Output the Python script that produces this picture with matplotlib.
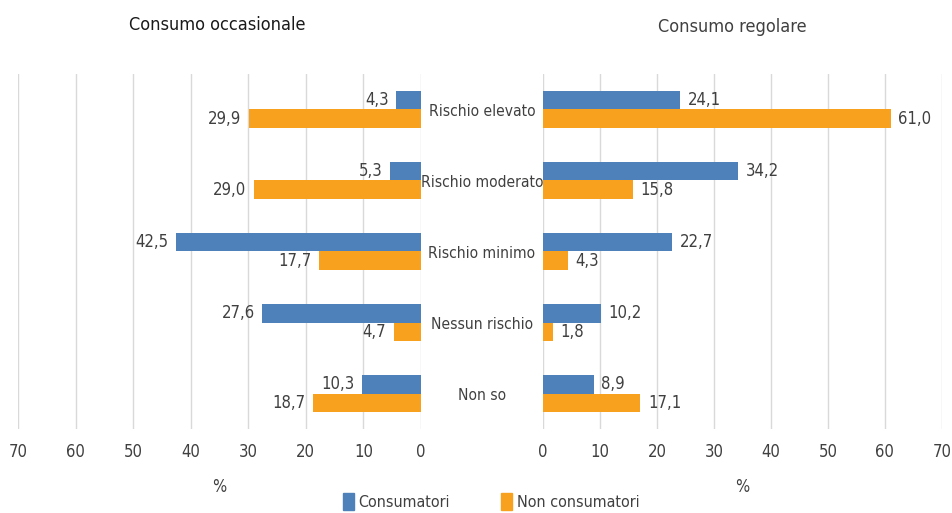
import numpy as np
import matplotlib
matplotlib.use("Agg")
import matplotlib.pyplot as plt
from matplotlib.patches import Patch

plt.rcParams["font.family"] = ["DejaVu Sans"]
plt.rcParams["font.stretch"] = "condensed"

categories = ["Rischio elevato", "Rischio moderato", "Rischio minimo", "Nessun rischio", "Non so"]
occ_consumatori = [4.3, 5.3, 42.5, 27.6, 10.3]
occ_non_consumatori = [29.9, 29.0, 17.7, 4.7, 18.7]
reg_consumatori = [24.1, 34.2, 22.7, 10.2, 8.9]
reg_non_consumatori = [61.0, 15.8, 4.3, 1.8, 17.1]
series_names = ["Consumatori", "Non consumatori"]
xticks = [0, 10, 20, 30, 40, 50, 60, 70]

BLUE = "#4E80B9"
ORANGE = "#F7A11F"
TXT = "#404040"
GRID = "#D9D9D9"

fig = plt.figure(figsize=(9.52, 5.13), dpi=100)
ax_l = fig.add_axes([0.0189, 0.1637, 0.4233, 0.6921])
ax_r = fig.add_axes([0.5704, 0.1637, 0.4190, 0.6921])

y = np.arange(len(categories))
h = 0.26


def fmt(v):
    return f"{v:.1f}".replace(".", ",")


def draw(ax, cons, non, left_side):
    ax.barh(y - h / 2, cons, height=h, color=BLUE, zorder=3)
    ax.barh(y + h / 2, non, height=h, color=ORANGE, zorder=3)
    ha = "right" if left_side else "left"
    for yi, v in zip(y, cons):
        ax.text(v + 1.3, yi - h / 2, fmt(v), ha=ha, va="center", fontsize=12, color=TXT)
    for yi, v in zip(y, non):
        ax.text(v + 1.3, yi + h / 2, fmt(v), ha=ha, va="center", fontsize=12, color=TXT)
    ax.set_ylim(len(categories) - 0.5, -0.5)
    ax.set_xticks(xticks)
    ax.set_xticklabels([str(t) for t in xticks], fontsize=12, color=TXT)
    ax.tick_params(axis="x", length=0, pad=10)
    ax.set_yticks([])
    ax.grid(axis="x", color=GRID, linewidth=1, zorder=0)
    for s in ax.spines.values():
        s.set_visible(False)
    ax.set_xlabel("%", fontsize=12, color=TXT, labelpad=12)


draw(ax_l, occ_consumatori, occ_non_consumatori, True)
ax_l.set_xlim(70, 0)
draw(ax_r, reg_consumatori, reg_non_consumatori, False)
ax_r.set_xlim(0, 70)

fig.text(217 / 952, 1 - 25 / 513, "Consumo occasionale", ha="center", va="center",
         fontsize=13, color="#1a1a1a")
fig.text(732 / 952, 1 - 27 / 513, "Consumo regolare", ha="center", va="center",
         fontsize=13, color="#404040")

for yi, c in zip(y, categories):
    ax_r.annotate(c, xy=(482 / 952, yi + 0.03), xycoords=("figure fraction", "data"),
                  ha="center", va="center", fontsize=11.2, color=TXT)

handles = [Patch(color=BLUE), Patch(color=ORANGE)]
fig.legend(handles, series_names, loc="lower center", bbox_to_anchor=(0.516, -0.022), ncol=2,
           frameon=False, fontsize=11.5, handlelength=0.7, handleheight=1.3, columnspacing=3.2,
           handletextpad=0.3, labelcolor=TXT)

fig.savefig("out.png", dpi=100)
